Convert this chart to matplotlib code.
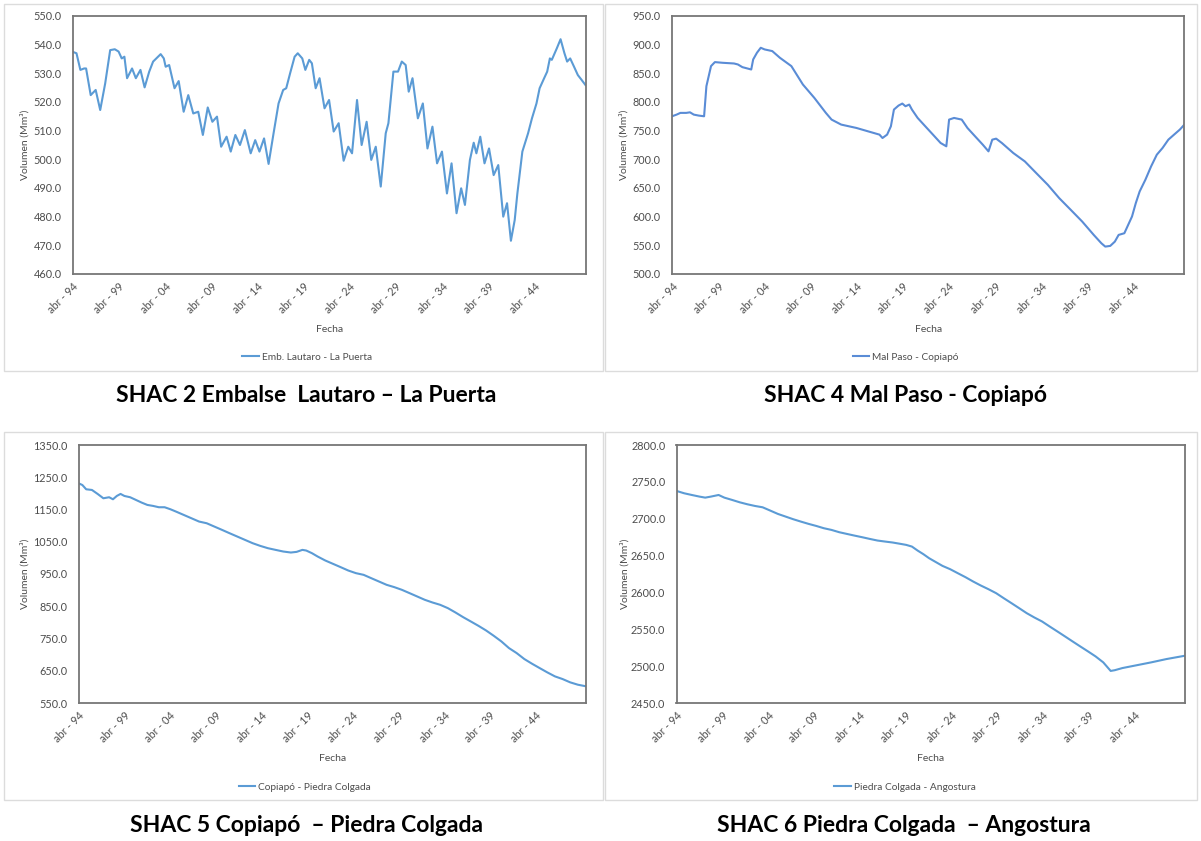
import matplotlib.pyplot as plt
from matplotlib.patches import Rectangle
from matplotlib.ticker import FormatStrFormatter

plt.rcParams['font.family'] = ['Lato', 'DejaVu Sans']

# fechas en años decimales (abr-1994 = 1994.25), volumen en Mm3
lautaro_fecha = [1994.25, 1994.66, 1995.08, 1995.49, 1995.70, 1996.20, 1996.74, 1997.23, 1997.77, 1998.31,
                 1998.81, 1999.22, 1999.56, 1999.85, 2000.14, 2000.68, 2001.09, 2001.59, 2002.04, 2002.54,
                 2002.96, 2003.78, 2004.12, 2004.32, 2004.70, 2005.28, 2005.73, 2006.27, 2006.77, 2007.31,
                 2007.85, 2008.35, 2008.88, 2009.38, 2009.88, 2010.33, 2010.92, 2011.37, 2011.87, 2012.37,
                 2012.90, 2013.53, 2014.02, 2014.48, 2014.98, 2015.47, 2016.01, 2016.55, 2017.05, 2017.38,
                 2017.80, 2018.29, 2018.63, 2019.12, 2019.45, 2019.87, 2020.16, 2020.57, 2020.99, 2021.53,
                 2022.02, 2022.52, 2023.06, 2023.60, 2024.10, 2024.51, 2025.05, 2025.55, 2026.09, 2026.59,
                 2027.08, 2027.62, 2028.16, 2028.45, 2028.99, 2029.49, 2029.90, 2030.32, 2030.65, 2031.06,
                 2031.64, 2032.18, 2032.68, 2033.22, 2033.72, 2034.25, 2034.79, 2035.29, 2035.83, 2036.33,
                 2036.74, 2037.28, 2037.69, 2037.98, 2038.40, 2038.86, 2039.35, 2039.85, 2040.35, 2040.89,
                 2041.30, 2041.72, 2042.13, 2042.42, 2042.96, 2043.58, 2044.00, 2044.49, 2044.83, 2045.32,
                 2045.65, 2045.94, 2046.15, 2046.69, 2047.10, 2047.52, 2047.81, 2048.14, 2048.56, 2048.97,
                 2049.38, 2049.80]
lautaro_vol = [537.5, 537.0, 531.2, 531.7, 531.7, 522.4, 524.2, 517.2, 526.5, 538.1,
               538.4, 537.6, 535.2, 535.8, 528.3, 531.7, 528.3, 531.2, 525.1, 530.6,
               534.1, 536.7, 535.2, 532.3, 532.9, 524.8, 527.3, 516.6, 522.4, 516.0,
               516.6, 508.5, 518.1, 513.1, 514.9, 504.4, 507.9, 502.7, 508.5, 505.0,
               510.2, 502.1, 506.7, 502.7, 507.3, 498.4, 509.1, 519.5, 524.2, 524.8,
               530.0, 535.8, 537.0, 535.2, 531.2, 534.7, 533.5, 524.8, 528.3, 517.8,
               520.7, 509.7, 512.6, 499.5, 504.4, 502.1, 520.7, 505.0, 513.1, 499.8,
               504.4, 490.5, 509.1, 512.6, 530.6, 530.6, 534.1, 532.9, 523.6, 528.3,
               514.3, 519.5, 503.8, 511.4, 498.6, 502.7, 488.1, 498.6, 481.2, 489.9,
               484.1, 499.8, 505.8, 502.1, 507.9, 498.6, 503.8, 494.5, 498.0, 480.0,
               484.7, 471.6, 478.8, 488.1, 502.7, 509.1, 514.3, 519.5, 524.8, 528.3,
               530.6, 535.2, 534.7, 538.7, 541.9, 537.0, 534.1, 535.2, 532.3, 529.4,
               527.7, 525.9]

malpaso_fecha = [1994.25, 1994.75, 1995.16, 1995.79, 1996.20, 1996.61, 1997.15, 1997.73, 1997.98, 1998.48,
                 1998.90, 1999.73, 2000.97, 2001.39, 2001.88, 2002.84, 2003.05, 2003.46, 2003.87, 2004.29,
                 2005.12, 2005.95, 2007.19, 2008.44, 2009.68, 2010.93, 2011.55, 2012.59, 2014.25, 2015.49,
                 2016.74, 2017.07, 2017.57, 2017.98, 2018.31, 2018.81, 2019.22, 2019.56, 2019.97, 2020.26,
                 2020.88, 2021.71, 2022.54, 2023.37, 2023.99, 2024.29, 2024.83, 2025.66, 2026.28, 2027.11,
                 2027.94, 2028.56, 2028.97, 2029.39, 2030.01, 2031.25, 2032.50, 2033.74, 2034.99, 2036.23,
                 2037.48, 2038.72, 2039.97, 2040.80, 2041.22, 2041.76, 2042.26, 2042.67, 2043.29, 2044.12,
                 2044.53, 2044.95, 2045.57, 2046.19, 2046.81, 2047.43, 2048.06, 2048.68, 2049.30, 2049.80]
malpaso_vol = [775.1, 778.0, 781.0, 781.0, 782.0, 778.0, 776.3, 775.1, 827.6, 862.6,
               869.6, 868.4, 867.2, 865.5, 860.8, 856.7, 874.2, 885.9, 894.6, 891.7,
               888.8, 877.1, 862.6, 830.5, 807.2, 781.0, 769.3, 760.6, 754.7, 748.9,
               743.1, 737.2, 743.1, 757.6, 786.8, 793.8, 797.3, 792.6, 795.5, 786.8,
               772.2, 757.6, 743.1, 728.5, 722.7, 769.3, 772.2, 769.3, 754.7, 740.1,
               725.6, 713.9, 734.3, 736.1, 728.5, 711.0, 696.4, 676.0, 655.6, 632.3,
               611.9, 591.5, 568.2, 553.6, 547.8, 549.0, 556.5, 568.2, 571.1, 600.3,
               623.6, 644.0, 664.4, 687.7, 708.1, 719.8, 734.3, 743.1, 751.8, 760.6]

copiapo_fecha = [1994.25, 1994.67, 1995.09, 1995.72, 1996.34, 1996.97, 1997.60, 1998.02, 1998.44, 1998.85,
                 1999.27, 1999.90, 2000.53, 2001.16, 2001.78, 2002.41, 2003.04, 2003.67, 2004.30, 2004.92,
                 2005.76, 2006.60, 2007.44, 2008.27, 2009.11, 2009.95, 2010.78, 2011.62, 2012.46, 2013.30,
                 2014.13, 2014.97, 2015.81, 2016.65, 2017.48, 2018.11, 2018.74, 2019.16, 2019.79, 2020.41,
                 2021.25, 2022.09, 2022.93, 2023.76, 2024.60, 2025.44, 2026.27, 2027.11, 2027.95, 2028.79,
                 2029.62, 2030.46, 2031.30, 2032.13, 2032.97, 2033.81, 2034.65, 2035.48, 2036.32, 2037.16,
                 2037.99, 2038.83, 2039.67, 2040.51, 2041.34, 2042.18, 2043.02, 2043.86, 2044.69, 2045.53,
                 2046.37, 2047.20, 2048.04, 2048.88, 2049.80]
copiapo_vol = [1231.3, 1226.0, 1212.7, 1210.6, 1198.3, 1184.8, 1188.0, 1181.7, 1192.0, 1198.3,
               1192.0, 1188.0, 1179.7, 1171.4, 1164.2, 1161.1, 1157.0, 1157.0, 1150.8, 1143.5,
               1133.2, 1122.9, 1112.6, 1107.4, 1097.1, 1086.8, 1076.4, 1066.1, 1055.8, 1045.5,
               1037.2, 1030.0, 1024.8, 1019.7, 1016.6, 1018.6, 1024.8, 1022.8, 1014.5, 1004.2,
               991.8, 981.5, 971.2, 960.8, 952.6, 947.4, 937.1, 926.8, 916.5, 909.3,
               901.0, 890.7, 880.3, 870.0, 861.7, 854.5, 844.2, 830.8, 816.3, 802.9,
               789.5, 775.0, 758.5, 740.9, 720.3, 704.8, 686.3, 671.8, 658.4, 645.0,
               632.5, 624.3, 614.0, 606.7, 601.6]

piedra_fecha = [1994.25, 1995.09, 1995.92, 1996.76, 1997.39, 1998.01, 1998.85, 1999.48, 2000.32, 2001.15,
                2001.99, 2002.83, 2003.66, 2004.50, 2005.33, 2006.17, 2007.01, 2007.84, 2008.68, 2009.52,
                2010.35, 2011.19, 2012.03, 2012.86, 2013.70, 2014.54, 2015.37, 2016.21, 2017.05, 2017.88,
                2018.72, 2019.35, 2019.98, 2020.60, 2021.23, 2021.86, 2022.49, 2023.32, 2024.16, 2024.99,
                2025.83, 2026.67, 2027.50, 2028.34, 2029.18, 2030.01, 2030.85, 2031.69, 2032.52, 2033.36,
                2034.20, 2035.03, 2035.87, 2036.71, 2037.54, 2038.38, 2039.22, 2040.05, 2040.89, 2041.70,
                2042.15, 2042.98, 2044.45, 2046.12, 2047.79, 2049.80]
piedra_vol = [2737.7, 2734.5, 2732.2, 2730.0, 2728.6, 2730.0, 2732.2, 2728.6, 2725.5, 2722.3,
              2719.6, 2717.3, 2715.5, 2711.0, 2706.5, 2702.9, 2699.3, 2696.1, 2693.0, 2690.2,
              2687.1, 2684.8, 2681.7, 2679.4, 2677.1, 2674.9, 2672.6, 2670.4, 2669.0, 2667.7,
              2665.9, 2664.5, 2662.2, 2656.8, 2651.9, 2646.4, 2641.9, 2636.0, 2631.5, 2626.1,
              2620.7, 2614.8, 2609.4, 2604.4, 2599.0, 2592.2, 2585.5, 2578.7, 2571.9, 2566.0,
              2560.6, 2553.8, 2547.1, 2540.3, 2533.5, 2526.7, 2520.0, 2513.2, 2505.1, 2493.5,
              2494.5, 2497.4, 2501.0, 2505.1, 2509.6, 2514.1]

tick_fecha = [1994.25, 1999.25, 2004.25, 2009.25, 2014.25, 2019.25, 2024.25, 2029.25, 2034.25, 2039.25, 2044.25]
tick_label = ['abr - 94', 'abr - 99', 'abr - 04', 'abr - 09', 'abr - 14', 'abr - 19',
              'abr - 24', 'abr - 29', 'abr - 34', 'abr - 39', 'abr - 44']

W, H = 1201, 841
gris = '#4d4d4d'
fig = plt.figure(figsize=(W / 100, H / 100), dpi=100)


def px(x0, y0, x1, y1):
    # caja en pixeles (origen arriba a la izquierda) -> fraccion de figura
    return [x0 / W, 1 - y1 / H, (x1 - x0) / W, (y1 - y0) / H]


def grafico(caja, fecha, vol, nombre, yticks, ylab_x, centro_leyenda, color='#5B9BD5'):
    ax = fig.add_axes(px(*caja))
    ax.plot(fecha, vol, color=color, lw=1.5, label=nombre)
    ax.set_xlim(1994.25, 2049.8)
    ax.set_ylim(yticks[0], yticks[-1])
    ax.set_yticks(yticks)
    ax.yaxis.set_major_formatter(FormatStrFormatter('%.1f'))
    ax.set_xticks(tick_fecha)
    ax.set_xticklabels(tick_label, rotation=45, ha='right', va='top', rotation_mode='anchor')
    ax.tick_params(axis='y', length=0, labelsize=7.8, labelcolor=gris, pad=8)
    ax.tick_params(axis='x', length=0, labelsize=7.8, labelcolor=gris, pad=5)
    for s in ax.spines.values():
        s.set_color('#767676')
        s.set_linewidth(1.3)
    ax.text(0.5, -0.217, 'Fecha', transform=ax.transAxes, ha='center', va='center',
            fontsize=7.5, color=gris)
    ax.text(ylab_x, 0.5, 'Volumen (Mm³)', transform=ax.transAxes, rotation=90,
            ha='center', va='center', fontsize=7.5, color=gris)
    ax.legend(loc='center', bbox_to_anchor=(centro_leyenda[0] / W, 1 - centro_leyenda[1] / H),
              bbox_transform=fig.transFigure, frameon=False, fontsize=7.3,
              handlelength=1.6, handletextpad=0.3, labelcolor=gris)
    return ax


grafico((72.7, 16, 585.5, 274), lautaro_fecha, lautaro_vol, 'Emb. Lautaro - La Puerta',
        [460 + 10 * i for i in range(10)], -0.093, (307, 357))
grafico((672, 16, 1184.4, 274), malpaso_fecha, malpaso_vol, 'Mal Paso - Copiapó',
        [500 + 50 * i for i in range(10)], -0.094, (906, 357), color='#5A8CD6')
grafico((78.5, 445, 586.3, 703), copiapo_fecha, copiapo_vol, 'Copiapó - Piedra Colgada',
        [550 + 100 * i for i in range(9)], -0.105, (305, 787))
grafico((676.5, 445, 1184.8, 703), piedra_fecha, piedra_vol, 'Piedra Colgada - Angostura',
        [2450 + 50 * i for i in range(8)], -0.101, (905, 787))

# marcos de las areas de grafico
for x0, y0, x1, y1 in [(4, 4, 603, 371), (605, 4, 1197, 371), (4, 432, 603, 800), (605, 432, 1197, 800)]:
    fig.add_artist(Rectangle((x0 / W, 1 - y1 / H), (x1 - x0) / W, (y1 - y0) / H,
                             transform=fig.transFigure, fill=False, ec='#dcdcdc', lw=1))

titulos = [('SHAC 2 Embalse  Lautaro – La Puerta', 306, 395),
           ('SHAC 4 Mal Paso - Copiapó', 905, 395),
           ('SHAC 5 Copiapó  – Piedra Colgada', 306, 826),
           ('SHAC 6 Piedra Colgada  – Angostura', 904, 826)]
for texto, x, y in titulos:
    fig.text(x / W, 1 - y / H, texto, ha='center', va='center', fontsize=16.5, fontweight='bold')

fig.savefig('out.png', dpi=100)
